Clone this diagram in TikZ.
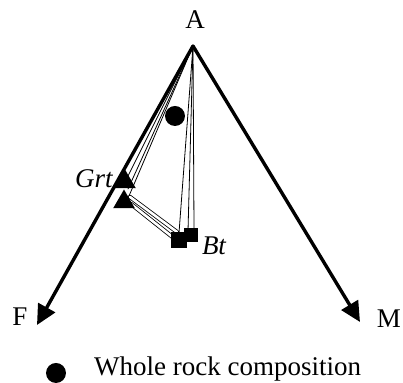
\documentclass[tikz,border=0pt]{standalone}
\usepackage{fontspec}
\setmainfont{Liberation Serif}
\usetikzlibrary{arrows.meta,shapes.geometric}
\tikzset{
  grt/.style={regular polygon, regular polygon sides=3, fill=black, inner sep=0pt, minimum size=12.5pt},
  bt/.style={rectangle, fill=black, inner sep=0pt, minimum size=#1},
  tie/.style={line width=0.4pt},
  pair/.style={double, double distance=1.3pt, line width=0.4pt},
  axis/.style={line width=1.7pt, -{Triangle[length=10pt,width=9.5pt]}},
  lab/.style={font=\fontsize{13.5}{15}\selectfont}
}
\begin{document}
\begin{tikzpicture}[x=0.5pt, y=-0.5pt, line cap=round, line join=round]
    \useasboundingbox (0,0) rectangle (403,383);
    \coordinate (A) at (193,46);
    \coordinate (F) at (37,325);
    \coordinate (M) at (360,322);
    \node[lab] (la) at (195,20) {A};
    \node[lab] (lf) at (20,317) {F};
    \node[lab] (lm) at (389,319) {M};
    % ties from the apex
    \foreach \p in {(120,176),(127,178),(129,196),(128,189)} \draw[tie] (A) -- \p;
    \foreach \p in {(179,233),(188,231),(194,228)} \draw[tie] (A) -- \p;
    \draw[pair] (130,197) -- (177,232);
    \draw[pair] (131,204) -- (175,239);
    % minerals
    \node[grt] (g1) at (125,182) {};
    \node[grt] (g2) at (124,202) {};
    \node[bt=7pt] (b2) at (191,235) {};
    \node[bt=8pt] (b1) at (179,240) {};
    \node[circle, fill=black, inner sep=0pt, minimum size=10pt] (wr) at (175,116) {};
    \node[lab, font=\fontsize{13.5}{15}\selectfont\itshape] (lg) at (94,179) {Grt};
    \node[lab, font=\fontsize{13.5}{15}\selectfont\itshape] (lb) at (214,246) {Bt};
    % axes
    \draw[axis] (A) -- (F);
    \draw[axis] (A) -- (M);
    % legend
    \node[circle, fill=black, inner sep=0pt, minimum size=10pt] (key) at (56,373) {};
    \node[lab, anchor=west] (lk) at (87,369) {Whole rock composition};
\end{tikzpicture}
\end{document}
